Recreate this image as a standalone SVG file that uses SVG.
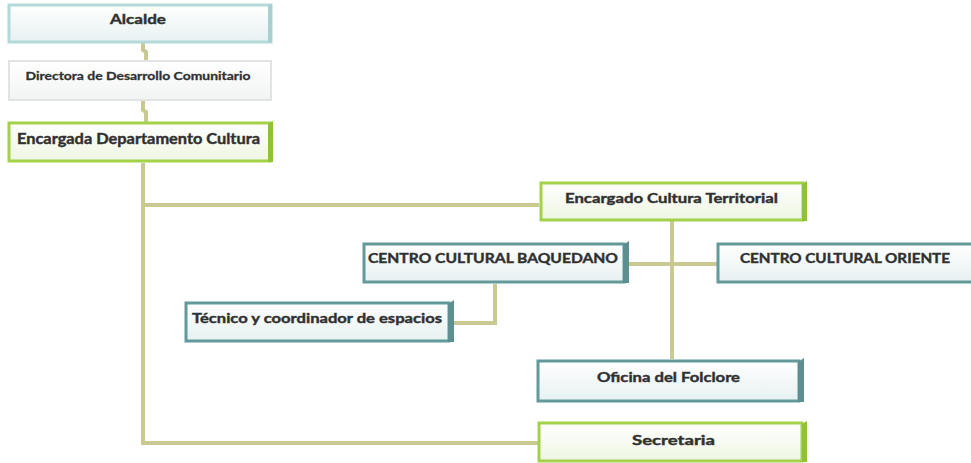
<svg xmlns="http://www.w3.org/2000/svg" width="971" height="463" viewBox="0 0 971 463">
<style>
.t{font-family:Lato,"Open Sans","Liberation Sans",sans-serif;font-weight:700;fill:#2e2e2e;stroke:#3a3a3a;stroke-width:0.45;}
.teal{fill:url(#gTeal);stroke:#64999a;stroke-width:3;}
.tealL{fill:url(#gTeal);stroke:#b3d9da;stroke-width:3;}
.grey{fill:url(#gGrey);stroke:#e2e4e4;stroke-width:2;}
.green{fill:url(#gGreen);stroke:#a3d14a;stroke-width:3;}
.sideT{fill:#5e8f90;}
.sideG{fill:#8fc236;}
.sideL{fill:#a9cfd0;}
.c{fill:none;stroke:#c9c992;stroke-width:4;}
</style>
<defs>
<linearGradient id="gTeal" x1="0" y1="0" x2="0" y2="1"><stop offset="0" stop-color="#ffffff"/><stop offset="1" stop-color="#e6f1f1"/></linearGradient>
<linearGradient id="gGrey" x1="0" y1="0" x2="0" y2="1"><stop offset="0" stop-color="#ffffff"/><stop offset="1" stop-color="#f2f3f3"/></linearGradient>
<linearGradient id="gGreen" x1="0" y1="0" x2="0" y2="1"><stop offset="0" stop-color="#ffffff"/><stop offset="1" stop-color="#eef6e2"/></linearGradient>
</defs>
<rect width="971" height="463" fill="#ffffff"/>
<g id="connectors">
<polyline class="c" points="143,43 143,50 146,52 146,60"/>
<polyline class="c" points="143,101 143,110 146,112 146,122"/>
<polyline class="c" points="143,163 143,443 539,443"/>
<line class="c" x1="143" y1="205" x2="539" y2="205"/>
<line class="c" x1="672" y1="221" x2="672" y2="359"/>
<line class="c" x1="628" y1="264" x2="717" y2="264"/>
<polyline class="c" points="495,284 495,323 454,323"/>
</g>
<g id="alcalde">
<rect class="tealL" x="9" y="5" width="262" height="37"/>
<polygon class="sideL" points="268,6 272,4 272,42 268,42"/>
<text class="t" x="138" y="24" font-size="14" text-anchor="middle" textLength="56" lengthAdjust="spacingAndGlyphs">Alcalde</text>
</g>
<g id="directora">
<rect class="grey" x="9" y="61" width="262" height="39"/>
<text class="t" x="138" y="80" font-size="11" text-anchor="middle" textLength="225" lengthAdjust="spacingAndGlyphs" style="stroke-width:0.3">Directora de Desarrollo  Comunitario</text>
</g>
<g id="encargada">
<rect class="green" x="9" y="123" width="261" height="38"/>
<polygon class="sideG" points="268,124 273,121 273,162 268,162"/>
<text class="t" x="17" y="144" font-size="15" textLength="243" lengthAdjust="spacingAndGlyphs">Encargada Departamento Cultura</text>
</g>
<g id="territorial">
<rect class="green" x="541" y="183" width="262" height="37"/>
<polygon class="sideG" points="802,184 807,181 807,221 802,221"/>
<text class="t" x="565" y="203" font-size="14" textLength="213" lengthAdjust="spacingAndGlyphs">Encargado Cultura Territorial</text>
</g>
<g id="baquedano">
<rect class="teal" x="364" y="244" width="260" height="38"/>
<polygon class="sideT" points="623,245 629,241 629,283 623,283"/>
<text class="t" x="368" y="263" font-size="14" textLength="250" lengthAdjust="spacingAndGlyphs">CENTRO CULTURAL BAQUEDANO</text>
</g>
<g id="oriente">
<rect class="teal" x="718" y="244" width="258" height="38"/>
<text class="t" x="740" y="263" font-size="14" textLength="210" lengthAdjust="spacingAndGlyphs">CENTRO CULTURAL ORIENTE</text>
</g>
<g id="tecnico">
<rect class="teal" x="186" y="303" width="263" height="38"/>
<polygon class="sideT" points="448,304 454,300 454,342 448,342"/>
<text class="t" x="192" y="323" font-size="14" textLength="250" lengthAdjust="spacingAndGlyphs">Técnico y coordinador de espacios</text>
</g>
<g id="folclore">
<rect class="teal" x="538" y="361" width="261" height="40"/>
<polygon class="sideT" points="798,362 804,358 804,402 798,402"/>
<text class="t" x="597" y="382" font-size="14" textLength="143" lengthAdjust="spacingAndGlyphs">Oficina del Folclore</text>
</g>
<g id="secretaria">
<rect class="green" x="539" y="423" width="263" height="38"/>
<polygon class="sideG" points="802,424 807,421 807,462 802,462"/>
<text class="t" x="632" y="445" font-size="14" textLength="83" lengthAdjust="spacingAndGlyphs">Secretaria</text>
</g>
</svg>
